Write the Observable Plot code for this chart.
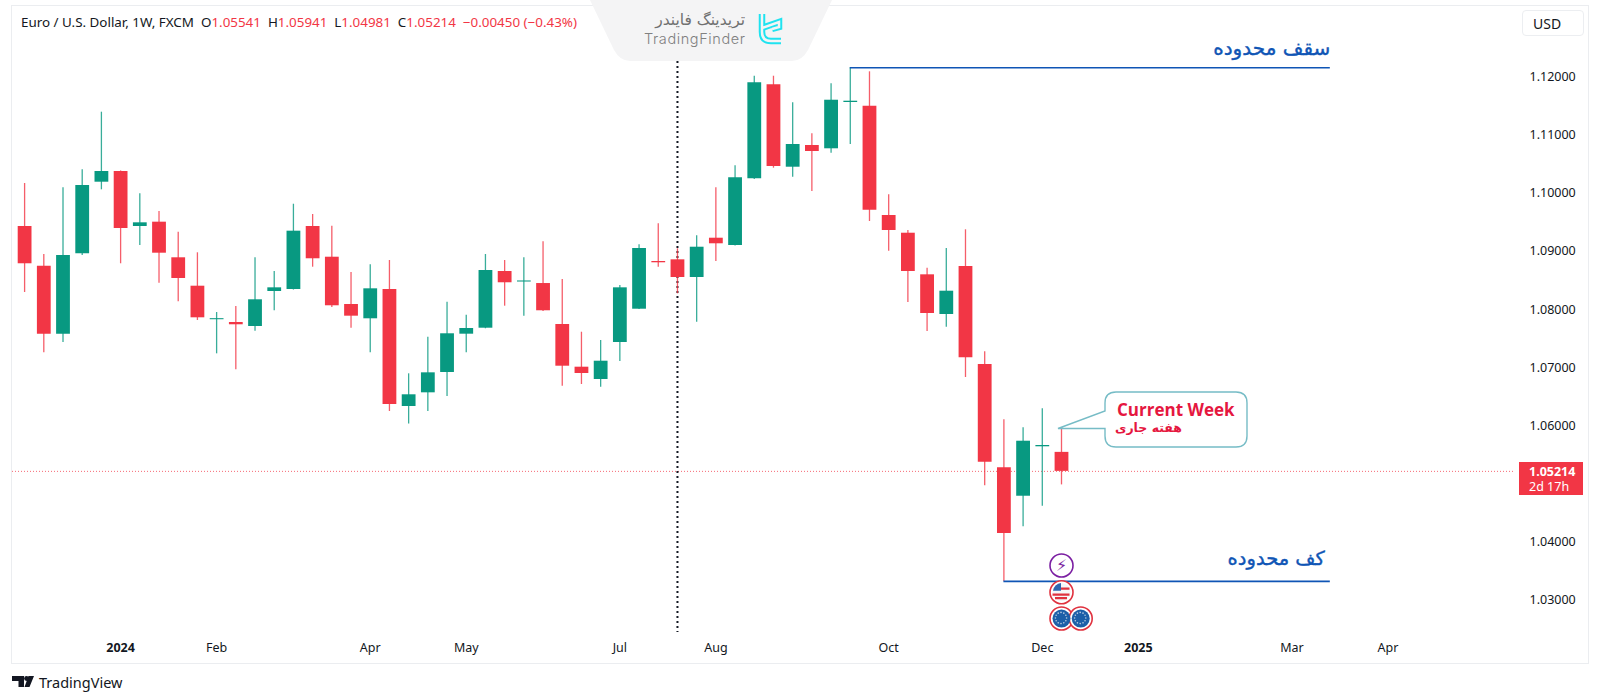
<!DOCTYPE html>
<html lang="en">
<head>
<meta charset="utf-8">
<title>EUR/USD weekly</title>
<script src="https://cdn.jsdelivr.net/npm/d3@7"></script>
<script src="https://cdn.jsdelivr.net/npm/@observablehq/plot@0.6"></script>
<style>
html,body{margin:0;padding:0;background:#fff;width:1600px;height:700px;overflow:hidden;font-family:"Noto Sans",sans-serif}
#frame{position:absolute;left:11px;top:5px;width:1576px;height:657px;border:1.5px solid #ebedf0;box-sizing:content-box}
#chart{position:absolute;left:0;top:0}
#chart svg{display:block}
#over{position:absolute;left:0;top:0;pointer-events:none}
.h{position:absolute;white-space:pre}
#hdr{left:21px;top:12.5px;font-size:13.4px;line-height:18px;color:#131722}
#hdr b{font-weight:400;color:#f23645}
#usd{left:1522px;top:10px;width:62px;height:26px;border:1px solid #eceef1;border-radius:4px;box-sizing:border-box;font-size:14px;line-height:25px;padding-left:10px;color:#131722;background:#fff}
#tag{left:1519px;top:462px;width:64px;height:33px;background:#f23645;color:#fff;font-size:12.5px;line-height:15px;padding:2px 0 0 10px;box-sizing:border-box}
#tag b{font-weight:700}
#tv{left:39px;top:672px;font-size:14.5px;line-height:20px;color:#131722}
</style>
</head>
<body>
<div id="frame"></div>
<div id="chart"></div>
<svg id="over" width="1600" height="700" xmlns="http://www.w3.org/2000/svg"></svg>
<div class="h" id="hdr">Euro / U.S. Dollar, 1W, FXCM  O<b>1.05541</b>  H<b>1.05941</b>  L<b>1.04981</b>  C<b>1.05214</b>  <b>−0.00450 (−0.43%)</b></div>
<div class="h" id="usd">USD</div>
<div class="h" id="tag"><b>1.05214</b>
2d 17h</div>
<div class="h" id="tv">TradingView</div>
<script>
const opens  = [1.09429,1.08745,1.07575,1.08959,1.10191,1.10375,1.09429,1.09503,1.0889,1.08401,1.07824,1.07776,1.07707,1.0831,1.08344,1.09429,1.089,1.08086,1.0784,1.08344,1.0633,1.06566,1.06916,1.07575,1.07678,1.08654,1.08473,1.08447,1.07742,1.07007,1.06795,1.07432,1.08005,1.08826,1.08855,1.08551,1.09227,1.09102,1.1025,1.11867,1.10449,1.10823,1.10766,1.11563,1.11499,1.09618,1.09313,1.08597,1.07914,1.0874,1.07053,1.05275,1.04786,1.05637,1.05541];
const highs  = [1.10169,1.08947,1.10095,1.10404,1.11396,1.10385,1.09991,1.09687,1.0933,1.08976,1.07948,1.08052,1.0889,1.08654,1.09812,1.09635,1.09434,1.08637,1.08769,1.08843,1.06893,1.07523,1.08126,1.07902,1.08947,1.08843,1.0889,1.09165,1.08516,1.07609,1.07466,1.08413,1.09114,1.09475,1.09045,1.09268,1.10095,1.10473,1.12015,1.12015,1.11558,1.11024,1.11885,1.1216,1.12091,1.09974,1.0936,1.08711,1.0905,1.09372,1.07272,1.06101,1.05964,1.06291,1.05941];
const lows   = [1.08293,1.07255,1.07432,1.08929,1.1006,1.08787,1.09102,1.08453,1.08132,1.07811,1.07237,1.06962,1.07626,1.07978,1.08335,1.08728,1.08034,1.07678,1.07255,1.06244,1.06029,1.06244,1.06502,1.07255,1.07668,1.08057,1.07885,1.07966,1.0668,1.06709,1.06663,1.07105,1.08,1.08728,1.0827,1.07781,1.08826,1.09093,1.10238,1.10432,1.10277,1.10031,1.1069,1.1084,1.09515,1.09003,1.0812,1.07621,1.07695,1.0683,1.04966,1.0332,1.0426,1.04614,1.04981];
const closes = [1.08787,1.07575,1.08929,1.10134,1.10375,1.09394,1.09492,1.08969,1.08534,1.07857,1.07842,1.07737,1.08167,1.08373,1.09348,1.08873,1.08064,1.07885,1.08356,1.06365,1.06532,1.0691,1.07582,1.07673,1.08671,1.0846,1.08491,1.07978,1.07024,1.06898,1.0711,1.08373,1.0905,1.08804,1.08551,1.09072,1.09131,1.10267,1.11902,1.10461,1.1084,1.10719,1.11602,1.11585,1.09709,1.0936,1.08654,1.07931,1.08315,1.07169,1.05372,1.04144,1.05733,1.05659,1.05214];

const priceTicks = [1.12,1.11,1.10,1.09,1.08,1.07,1.06,1.04,1.03];
const monthTicks = ["2024-02-05","2024-04-01","2024-05-06","2024-07-01","2024-08-05","2024-10-07","2024-12-02","2025-03-03","2025-04-07"];
const monthNames = ["Feb","Apr","May","Jul","Aug","Oct","Dec","Mar","Apr"];
const yearTicks  = ["2024-01-01","2025-01-06"];
const yearNames  = ["2024","2025"];

const rangeTop = 1.1216, rangeBottom = 1.0332, lastPrice = 1.05214;
const labelTop = "سقف محدوده", labelBottom = "کف محدوده";

const eventDates  = ["2024-12-09","2024-12-09","2024-12-09","2024-12-16"];
const eventPrices = [1.03594,1.03134,1.02681,1.02681];
const eventKinds  = ["speech","usa","eu","eu"];

const D = s => new Date(s + "T00:00:00Z");
const start = D("2023-11-27");
const candles = opens.map((o,i)=>({date:d3.utcDay.offset(start,i*7),o,h:highs[i],l:lows[i],c:closes[i]}));
const up = candles.filter(d=>d.c>=d.o), down = candles.filter(d=>d.c<d.o);
const RED="#f23645", GREEN="#089981", BLUE="#0f55b5";
const fontMain='"Noto Sans",sans-serif', fontFa='"DejaVu Sans",sans-serif';

const series = (data,color)=>[
  Plot.ruleX(data,{x:"date",y1:"l",y2:"h",stroke:color,strokeWidth:1.3,strokeOpacity:.8}),
  Plot.ruleX(data,{x:"date",y1:"o",y2:"c",stroke:color,strokeWidth:13.8})
];
const events = eventDates.map((d,i)=>({date:D(d),price:eventPrices[i],kind:eventKinds[i]}));
const dateFmt = (dates,names)=>d=>names[dates.findIndex(s=>+D(s)===+d)];

const chart = Plot.plot({
  width:1600,height:700,
  marginLeft:12,marginRight:85,marginTop:6,marginBottom:60,
  style:{fontFamily:fontMain,background:"transparent",overflow:"visible"},
  x:{type:"utc",domain:[start,D("2024-12-09")],range:[24.1,1061]},
  y:{domain:[1.03,1.12],range:[599.5,76.6]},
  marks:[
    Plot.ruleY([lastPrice],{stroke:RED,strokeWidth:1,strokeDasharray:"1 2",strokeOpacity:.75}),
    Plot.ruleX([D("2024-07-22")],{y1:1.12269,y2:1.02441,stroke:"#131722",strokeWidth:2,strokeDasharray:"2 3"}),
    ...series(up,GREEN),
    ...series(down,RED),
    Plot.ruleY([rangeTop],{x1:D("2024-09-23"),x2:D("2025-03-17"),stroke:BLUE,strokeWidth:1.6}),
    Plot.ruleY([rangeBottom],{x1:D("2024-11-18"),x2:D("2025-03-17"),stroke:BLUE,strokeWidth:1.6}),
    Plot.text([labelTop],{x:D("2025-03-17"),y:1.12492,text:d=>d,textAnchor:"end",fill:BLUE,stroke:BLUE,strokeWidth:.4,fontSize:20,fontWeight:400,fontFamily:fontFa}),
    Plot.text([labelBottom],{x:D("2025-03-15"),y:1.03714,text:d=>d,textAnchor:"end",fill:BLUE,stroke:BLUE,strokeWidth:.4,fontSize:19.5,fontWeight:400,fontFamily:fontFa}),
    Plot.dot(events.filter(d=>d.kind==="speech"),{x:"date",y:"price",r:11.5,fill:"#fff",stroke:"#7b1fa2",strokeWidth:1.6}),
    Plot.text(events.filter(d=>d.kind==="speech"),{x:"date",y:"price",text:()=>"⚡",fill:"#7b1fa2",fontSize:16,fontFamily:fontFa}),
    Plot.dot(events.filter(d=>d.kind!=="speech"),{x:"date",y:"price",r:11.5,fill:"#fff",stroke:"#e0323f",strokeWidth:1.6}),
    Plot.dot(events.filter(d=>d.kind==="eu"),{x:"date",y:"price",r:9,fill:"#1c5fa8"}),
    Plot.dot(events.filter(d=>d.kind==="usa"),{x:"date",y:"price",r:9,fill:"#f6f6f8"}),
    Plot.axisY({anchor:"right",ticks:priceTicks,tickFormat:d=>d.toFixed(5),tickSize:0,tickPadding:14,label:null,fontSize:12.5,fill:"#131722"}),
    Plot.axisX({ticks:monthTicks.map(D),tickFormat:dateFmt(monthTicks,monthNames),tickSize:0,tickPadding:3,label:null,fontSize:12.5,fill:"#131722"}),
    Plot.axisX({ticks:yearTicks.map(D),tickFormat:dateFmt(yearTicks,yearNames),tickSize:0,tickPadding:3,label:null,fontSize:12.5,fontWeight:700,fill:"#131722"})
  ]
});
document.getElementById("chart").append(chart);

// decorations above the chart: brand tab, callout, footer logo, event icon details
const over = d3.select("#over");
over.append("path").attr("d","M590,0 H832 L808,50 Q802,61 792,61 H630 Q620,61 614,50 Z").attr("fill","#f4f4f5");
over.append("text").attr("x",745).attr("y",25).attr("text-anchor","start").attr("direction","rtl")
  .attr("font-family",fontFa).attr("font-size",15.5).attr("fill","#707070").text("تریدینگ فایندر");
over.append("text").attr("x",644).attr("y",44).attr("font-family",'"Inter",sans-serif').attr("font-weight",300).attr("font-size",14.5)
  .attr("textLength",101).attr("fill","#808080").text("TradingFinder");
const lg="M762,14 V32 Q762,41 771,41 H781 M762,28 L779,22 V27 L772,29";
over.append("path").attr("d",lg).attr("fill","none").attr("stroke","#1fe3f0").attr("stroke-width",6.5);
over.append("path").attr("d",lg).attr("fill","none").attr("stroke","#f4f4f5").attr("stroke-width",2.5);

over.append("path")
  .attr("d","M1116,392 H1236 Q1247,392 1247,403 V436 Q1247,447 1236,447 H1116 Q1105,447 1105,436 V428.5 H1058 L1105,411 V403 Q1105,392 1116,392 Z")
  .attr("fill","#fff").attr("stroke","#76bcc6").attr("stroke-width",1.4);
over.append("text").attr("x",1117).attr("y",416).attr("font-family",'"Open Sans",sans-serif').attr("font-weight",700)
  .attr("font-size",17).attr("fill","#e5173f").text("Current Week");
over.append("text").attr("x",1182).attr("y",432).attr("text-anchor","start").attr("direction","rtl")
  .attr("font-family",fontFa).attr("font-weight",700).attr("font-size",12.5).attr("fill","#e5173f").text("هفته جاری");

// flag
const fx=1061, fy=591.7;
over.append("path").attr("d",`M${fx-8.5},${fy+3} H${fx+8.5} M${fx-6},${fy+6.5} H${fx+6} M${fx},${fy-3} H${fx+8.5}`).attr("stroke","#e0323f").attr("stroke-width",2.2);
over.append("path").attr("d",`M${fx-8},${fy-1} A9,9 0 0 1 ${fx},${fy-8.8} V${fy-1} Z`).attr("fill","#2e66b0");
// stars on the EU discs
for(const cx of [1061,1080.2]) for(let k=0;k<12;k++){
  const a=k*Math.PI/6;
  over.append("circle").attr("cx",cx+5.6*Math.cos(a)).attr("cy",618+5.6*Math.sin(a)).attr("r",.8).attr("fill","#b8cbe0");
}
// TradingView mark
over.append("path").attr("d","M12,676 H24 V687 H18.5 V681 H12 Z M34,676 H28.5 L24.5,687 H29.5 Z").attr("fill","#131722");
over.append("circle").attr("cx",26.5).attr("cy",678.5).attr("r",2.4).attr("fill","#131722");
</script>
</body>
</html>
